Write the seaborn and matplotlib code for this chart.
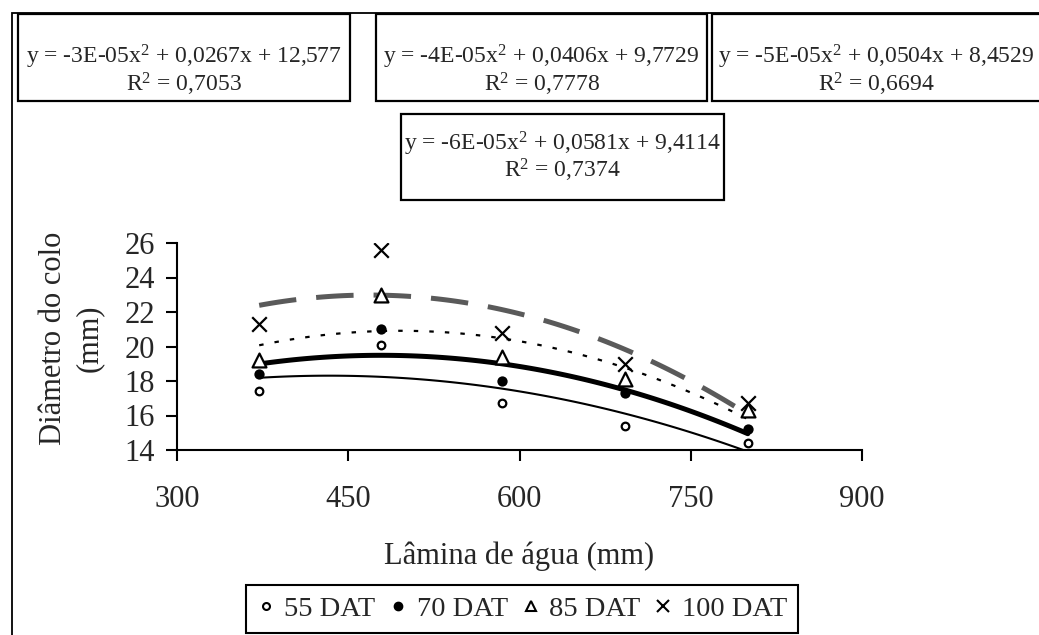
import numpy as np
import pandas as pd
import seaborn as sns
import matplotlib
matplotlib.use('Agg')
import matplotlib.pyplot as plt
from matplotlib.lines import Line2D
from matplotlib.patches import Rectangle

# data
lamina = [372, 479, 585, 692, 800]
d55 = [17.4, 20.1, 16.7, 15.4, 14.4]
d70 = [18.4, 21.0, 18.0, 17.3, 15.2]
d85 = [19.2, 23.0, 19.4, 18.1, 16.3]
d100 = [21.3, 25.6, 20.8, 19.0, 16.7]
series_names = ['55 DAT', '70 DAT', '85 DAT', '100 DAT']
eq_lines = [
    'y = -3E-05x$^2$ + 0,0267x + 12,577',
    'y = -4E-05x$^2$ + 0,0406x + 9,7729',
    'y = -5E-05x$^2$ + 0,0504x + 8,4529',
    'y = -6E-05x$^2$ + 0,0581x + 9,4114',
]
r2_lines = ['R$^2$ = 0,7053', 'R$^2$ = 0,7778', 'R$^2$ = 0,6694', 'R$^2$ = 0,7374']

sns.set_style('white')
plt.rcParams['font.family'] = ['Liberation Serif', 'DejaVu Serif']
plt.rcParams['mathtext.fontset'] = 'custom'
plt.rcParams['mathtext.rm'] = 'Liberation Serif'
plt.rcParams['mathtext.it'] = 'Liberation Serif:italic'
plt.rcParams['mathtext.bf'] = 'Liberation Serif:bold'

W, H = 1039, 635
fig = plt.figure(figsize=(W / 100, H / 100), dpi=100)


def fx(px):
    return px / W


def fy(py):
    return 1 - py / H


ax = fig.add_axes([fx(177), fy(450), fx(862 - 177), (450 - 243) / H])

# marker styles
mstyle = {
    '55 DAT': dict(marker='o', s=30, facecolors='white', edgecolors='black', linewidths=1.6),
    '70 DAT': dict(marker='o', s=55, color='black', linewidths=0),
    '85 DAT': dict(marker='^', s=100, facecolors='white', edgecolors='black', linewidths=1.6),
    '100 DAT': dict(marker='x', s=110, color='black', linewidths=1.6),
}
# trendline styles
lstyle = {
    '55 DAT': dict(color='black', lw=1.5, ls='-'),
    '70 DAT': dict(color='black', lw=3.6, ls='-'),
    '85 DAT': dict(color='black', lw=1.6, ls=(0, (2, 5))),
    '100 DAT': dict(color='#5a5a5a', lw=3.6, ls=(0, (7.5, 4))),
}

for name, vals in zip(series_names, [d55, d70, d85, d100]):
    df = pd.DataFrame({'x': lamina, 'y': vals})
    sns.regplot(data=df, x='x', y='y', order=2, ci=None, scatter=False,
                line_kws=lstyle[name], ax=ax)

for name, vals in zip(series_names, [d55, d70, d85, d100]):
    df = pd.DataFrame({'x': lamina, 'y': vals})
    sns.scatterplot(data=df, x='x', y='y', ax=ax, zorder=5, **mstyle[name])

ax.set_xlim(300, 900)
ax.set_ylim(14, 26)
ax.set_xticks(np.arange(300, 901, 150))
ax.set_yticks(np.arange(14, 27, 2))
for s in ['top', 'right']:
    ax.spines[s].set_visible(False)
for s in ['left', 'bottom']:
    ax.spines[s].set_linewidth(1.5)
    ax.spines[s].set_color('black')
ax.tick_params(axis='both', direction='out', length=8, width=1.5, color='black',
               labelsize=22, left=True, bottom=True)
ax.tick_params(axis='x', pad=17)
ax.tick_params(axis='y', pad=8)
ax.set_xlabel('Lâmina de água (mm)', fontsize=22, labelpad=20)
ax.set_ylabel('Diâmetro do colo\n(mm)', fontsize=22, linespacing=1.3)
ax.yaxis.set_label_coords(-0.107, 0.54)

# outer chart frame
fig.add_artist(Rectangle((fx(12), fy(H + 20)), fx(W + 20), (H + 7) / H,
                         transform=fig.transFigure, fill=False, lw=1.3,
                         edgecolor='black'))

# equation boxes: left, top, right, bottom, first line y, second line y (px)
boxes = [(18, 14, 350, 101, 57, 84), (376, 14, 707, 101, 57, 84),
         (712, 14, 1045, 101, 57, 84), (401, 114, 724, 200, 144, 170)]
for (l, t, r, b, y1, y2), eq, r2 in zip(boxes, eq_lines, r2_lines):
    fig.add_artist(Rectangle((fx(l), fy(b)), fx(r - l), (b - t) / H,
                             transform=fig.transFigure, fill=True,
                             facecolor='white', lw=1.6, edgecolor='black'))
    cx = fx((l + min(r, 1041)) / 2)
    fig.text(cx, fy(y1), eq, ha='center', va='center', fontsize=17)
    fig.text(cx, fy(y2), r2, ha='center', va='center', fontsize=17)

handles = [
    Line2D([], [], ls='none', marker='o', ms=5, mfc='white', mec='black', mew=1.5),
    Line2D([], [], ls='none', marker='o', ms=6, mfc='black', mec='black'),
    Line2D([], [], ls='none', marker='^', ms=7, mfc='white', mec='black', mew=1.5),
    Line2D([], [], ls='none', marker='x', ms=8, mec='black', mew=1.5),
]
leg = fig.legend(handles, series_names, loc='center', ncol=4,
                 bbox_to_anchor=(fx(522), fy(609)), fontsize=20.5,
                 frameon=True, fancybox=False, edgecolor='black', framealpha=1,
                 handlelength=0.6, handletextpad=0.35, columnspacing=0.5,
                 borderpad=0.4, borderaxespad=0)
leg.get_frame().set_linewidth(1.5)

fig.savefig('out.png', dpi=100)
